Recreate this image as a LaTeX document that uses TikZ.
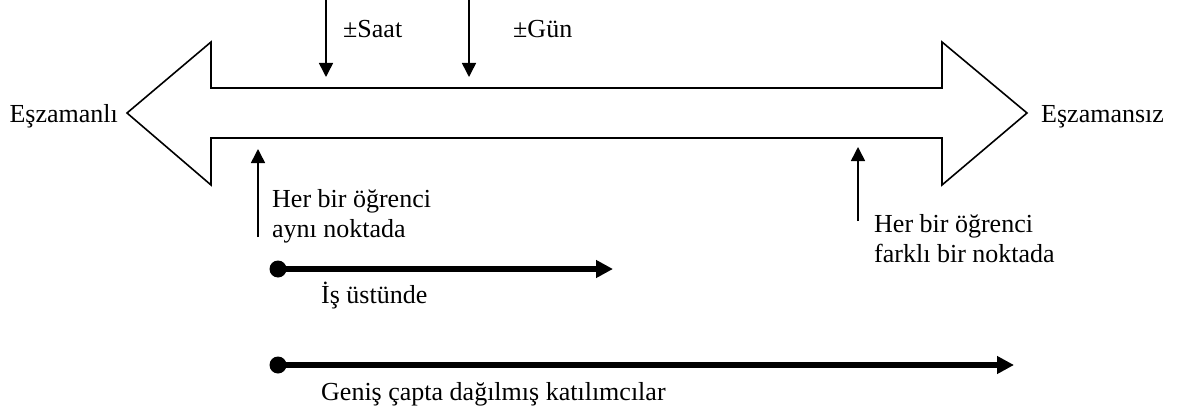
\documentclass[tikz,border=0pt]{standalone}
\usepackage{fontspec}
\setmainfont{Liberation Serif}
\usetikzlibrary{arrows.meta}
\tikzset{
  bigshape/.style={draw, line width=1.6pt, line join=miter},
  thinarrow/.style={line width=1.5pt, -{Triangle[length=14pt,width=14pt]}},
  thickarrow/.style={line width=6.5pt, -{Triangle[length=17pt,width=17pt]}},
  dot/.style={circle, fill, inner sep=0pt, minimum size=17pt},
  lbl/.style={inner sep=0pt, font=\fontsize{26}{30}\selectfont, align=left},
}
\begin{document}
\begin{tikzpicture}[x=1pt,y=-1pt]
\useasboundingbox (0,0) rectangle (1178,412);
% double arrow shape
\draw[bigshape] (127,113) -- (211,42) -- (211,88) -- (942,88) -- (942,42)
  -- (1027,113) -- (942,185) -- (942,138) -- (211,138) -- (211,185) -- cycle;
\node[lbl, anchor=base east] (sync) at (118,122) {Eşzamanlı};
\node[lbl, anchor=base west] (async) at (1041,122) {Eşzamansız};
% top arrows
\coordinate (s0) at (326,0);
\coordinate (s1) at (326,77);
\coordinate (g0) at (469,0);
\coordinate (g1) at (469,77);
\draw[thinarrow] (s0) -- (s1);
\draw[thinarrow] (g0) -- (g1);
\node[lbl, anchor=base west] (saat) at (343,38) {±Saat};
\node[lbl, anchor=base west] (gun) at (513,38) {±Gün};
% bottom up arrows
\coordinate (a0) at (258,237);
\coordinate (a1) at (258,149);
\coordinate (b0) at (858,221);
\coordinate (b1) at (858,147);
\draw[thinarrow] (a0) -- (a1);
\draw[thinarrow] (b0) -- (b1);
\node[lbl, anchor=base west] (same) at (272,237) {Her bir öğrenci\\aynı noktada};
\node[lbl, anchor=base west] (diff) at (874,262) {Her bir öğrenci\\farklı bir noktada};
% thick arrows
\node[dot] (d1) at (278,269) {};
\coordinate (e1) at (613,269);
\draw[thickarrow] (d1.center) -- (e1);
\node[lbl, anchor=base west] (job) at (321,303) {İş üstünde};
\node[dot] (d2) at (278,365) {};
\coordinate (e2) at (1014,365);
\draw[thickarrow] (d2.center) -- (e2);
\node[lbl, anchor=base west] (wide) at (321,400) {Geniş çapta dağılmış katılımcılar};
\end{tikzpicture}
\end{document}
